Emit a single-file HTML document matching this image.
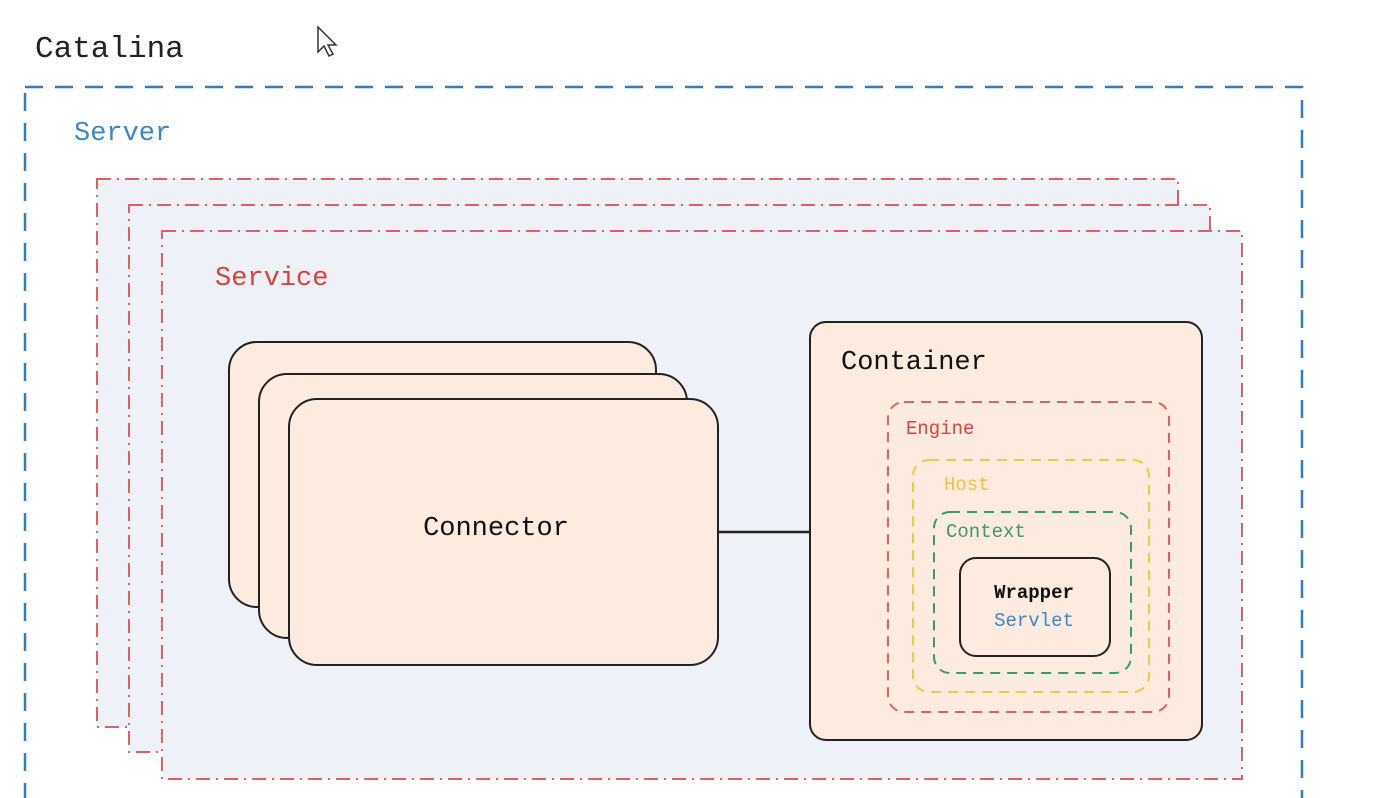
<!DOCTYPE html>
<html><head><meta charset="utf-8"><style>
html,body{margin:0;padding:0;background:#fff;width:1397px;height:798px;overflow:hidden}
text{font-family:"Liberation Mono",monospace}
</style></head><body>
<svg width="1397" height="798" viewBox="0 0 1397 798" xmlns="http://www.w3.org/2000/svg">
<text x="35" y="57" font-size="31" fill="#222">Catalina</text>
<path d="M318 27 L318 52 L324 46 L329 56 L333 54 L328 45 L336 45 Z" fill="#fff" stroke="#333" stroke-width="1.5"/>
<rect x="25" y="87" width="1277" height="730" fill="none" stroke="#2f7fc0" stroke-width="2.5" stroke-dasharray="18,12"/>
<text x="74" y="140" font-size="27" fill="#3b86c4">Server</text>
<g fill="#eef1f8" stroke="#e06060" stroke-width="2" stroke-dasharray="14,6,2,6">
<rect x="97" y="179" width="1081" height="548"/>
<rect x="129" y="205" width="1081" height="547"/>
<rect x="162" y="231" width="1080" height="548"/>
</g>
<text x="215" y="285" font-size="27" fill="#d9413c">Service</text>
<g fill="#fdebe0" stroke="#222" stroke-width="2">
<rect x="229" y="342" width="427" height="265" rx="28"/>
<rect x="259" y="374" width="428" height="264" rx="28"/>
<rect x="289" y="399" width="429" height="266" rx="28"/>
</g>
<text x="496" y="535" font-size="27" fill="#111" text-anchor="middle">Connector</text>
<line x1="718" y1="532" x2="810" y2="532" stroke="#222" stroke-width="2.5"/>
<rect x="810" y="322" width="392" height="418" rx="16" fill="#fdebe0" stroke="#222" stroke-width="2"/>
<text x="841" y="369" font-size="27" fill="#111">Container</text>
<rect x="888" y="402" width="281" height="310" rx="16" fill="none" stroke="#e06060" stroke-width="2" stroke-dasharray="10,7"/>
<text x="906" y="434" font-size="19" fill="#d9413c">Engine</text>
<rect x="913" y="460" width="236" height="232" rx="16" fill="none" stroke="#f0c93c" stroke-width="2" stroke-dasharray="10,7"/>
<text x="944" y="490" font-size="19" fill="#efc040">Host</text>
<rect x="934" y="512" width="197" height="161" rx="16" fill="none" stroke="#3a9a6b" stroke-width="2" stroke-dasharray="10,7"/>
<text x="946" y="537" font-size="19" fill="#3a9a6b">Context</text>
<rect x="960" y="558" width="150" height="98" rx="16" fill="#fdebe0" stroke="#222" stroke-width="2"/>
<text x="1034" y="598" font-size="19" fill="#111" font-weight="bold" text-anchor="middle">Wrapper</text>
<text x="1034" y="626" font-size="19" fill="#3b86c4" text-anchor="middle">Servlet</text>
</svg>
</body></html>
